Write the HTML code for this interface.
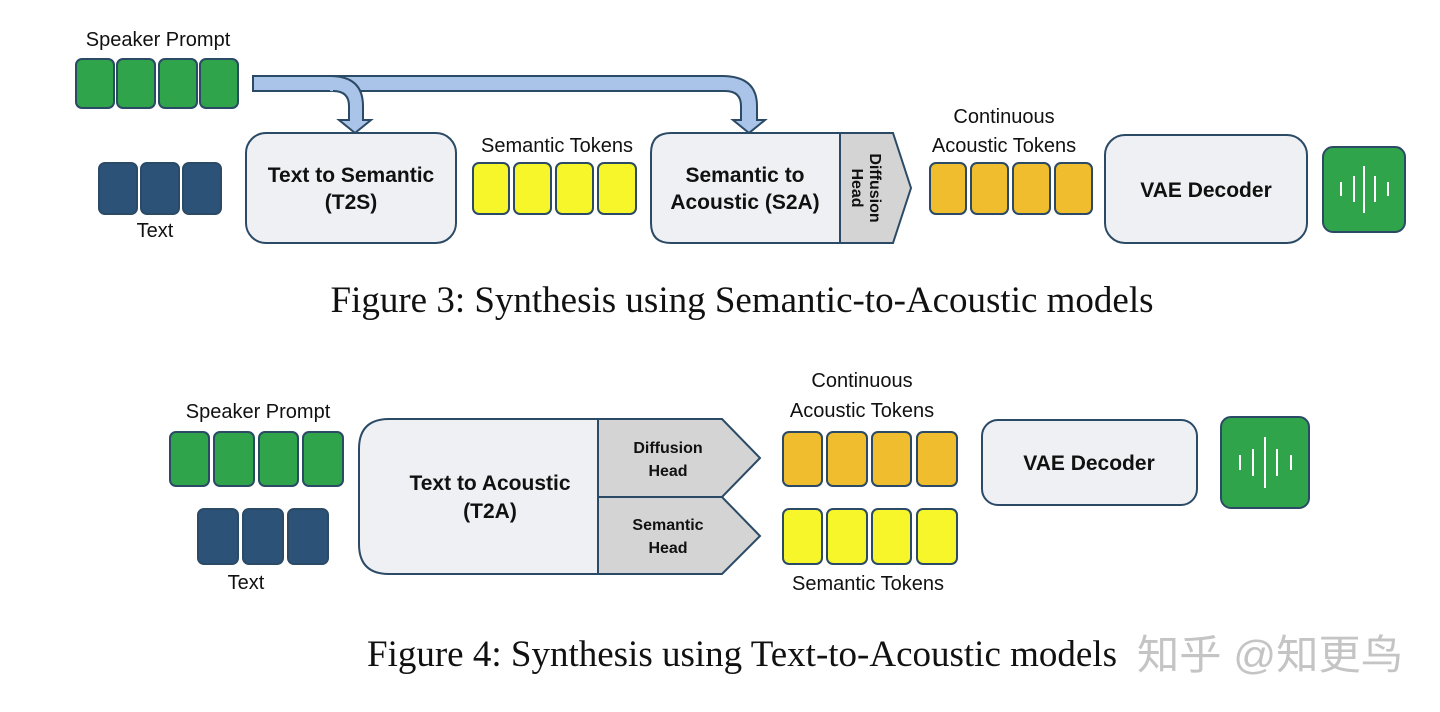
<!DOCTYPE html>
<html><head><meta charset="utf-8"><style>
html,body{margin:0;padding:0;background:#fff;}
svg{display:block}
.l{font-family:"Liberation Sans",sans-serif;font-size:20px;fill:#111;}
.b{font-family:"Liberation Sans",sans-serif;font-size:21px;font-weight:bold;fill:#111;}
.s{font-family:"Liberation Sans",sans-serif;font-size:16px;font-weight:bold;fill:#111;}
.c{font-family:"Liberation Serif",serif;font-size:37px;fill:#111;}
</style></head><body>
<svg width="1440" height="712" viewBox="0 0 1440 712" xmlns="http://www.w3.org/2000/svg">
<g stroke="#2b4a66" stroke-width="2">
<!-- fig3 -->
<text class="l" x="158" y="46" text-anchor="middle" stroke="none">Speaker Prompt</text>
<g fill="#2fa44a"><rect x="76" y="59" width="38" height="49" rx="6"/><rect x="117" y="59" width="38" height="49" rx="6"/><rect x="159" y="59" width="38" height="49" rx="6"/><rect x="200" y="59" width="38" height="49" rx="6"/></g>
<path d="M253,76 H722 Q757,76 757,106 V120 H765 L749,133 L733,120 H741 V106 Q741,91 725,91 H253 Z" fill="#a9c4e8"/>
<path d="M330,76 Q363,76 363,106 V120 H371 L355,133 L339,120 H349 V106 Q349,91 330,91 Z" fill="#a9c4e8" stroke="none"/>
<path d="M330,76 Q363,76 363,106 V120 H371 L355,133 L339,120 H349 V106 Q349,91 333,91" fill="none"/>
<g fill="#2c5278"><rect x="99" y="163" width="38" height="51" rx="6"/><rect x="141" y="163" width="38" height="51" rx="6"/><rect x="183" y="163" width="38" height="51" rx="6"/></g>
<text class="l" x="155" y="237" text-anchor="middle" stroke="none">Text</text>
<rect x="246" y="133" width="210" height="110" rx="20" fill="#eef0f3"/>
<text class="b" x="351" y="182" text-anchor="middle" stroke="none">Text to Semantic</text>
<text class="b" x="351" y="209" text-anchor="middle" stroke="none">(T2S)</text>
<text class="l" x="557" y="152" text-anchor="middle" stroke="none">Semantic Tokens</text>
<g fill="#f6f62a"><rect x="473" y="163" width="36" height="51" rx="6"/><rect x="514" y="163" width="37" height="51" rx="6"/><rect x="556" y="163" width="37" height="51" rx="6"/><rect x="598" y="163" width="38" height="51" rx="6"/></g>
<path d="M840,133 H671 Q651,133 651,153 V223 Q651,243 671,243 H840 Z" fill="#eef0f3"/>
<path d="M840,133 H893 L911,188 L893,243 H840 Z" fill="#d4d4d4"/>
<text class="b" x="745" y="182" text-anchor="middle" stroke="none">Semantic to</text>
<text class="b" x="745" y="209" text-anchor="middle" stroke="none">Acoustic (S2A)</text>
<g transform="translate(866,188) rotate(90)"><text class="s" x="0" y="-4" text-anchor="middle" stroke="none">Diffusion</text><text class="s" x="0" y="14" text-anchor="middle" stroke="none">Head</text></g>
<text class="l" x="1004" y="123" text-anchor="middle" stroke="none">Continuous</text>
<text class="l" x="1004" y="152" text-anchor="middle" stroke="none">Acoustic Tokens</text>
<g fill="#f0bd2e"><rect x="930" y="163" width="36" height="51" rx="6"/><rect x="971" y="163" width="37" height="51" rx="6"/><rect x="1013" y="163" width="37" height="51" rx="6"/><rect x="1055" y="163" width="37" height="51" rx="6"/></g>
<rect x="1105" y="135" width="202" height="108" rx="20" fill="#eef0f3"/>
<text class="b" x="1206" y="197" text-anchor="middle" stroke="none">VAE Decoder</text>
<rect x="1323" y="147" width="82" height="85" rx="10" fill="#2fa44a"/>
<g stroke="#fff" stroke-width="2"><line x1="1341" y1="182" x2="1341" y2="196"/><line x1="1354" y1="176" x2="1354" y2="202"/><line x1="1364" y1="166" x2="1364" y2="213"/><line x1="1375" y1="176" x2="1375" y2="202"/><line x1="1388" y1="182" x2="1388" y2="196"/></g>
<text class="c" x="742" y="312" text-anchor="middle" stroke="none" textLength="823" lengthAdjust="spacingAndGlyphs">Figure 3: Synthesis using Semantic-to-Acoustic models</text>
<!-- fig4 -->
<text class="l" x="258" y="418" text-anchor="middle" stroke="none">Speaker Prompt</text>
<g fill="#2fa44a"><rect x="170" y="432" width="39" height="54" rx="6"/><rect x="214" y="432" width="40" height="54" rx="6"/><rect x="259" y="432" width="39" height="54" rx="6"/><rect x="303" y="432" width="40" height="54" rx="6"/></g>
<g fill="#2c5278"><rect x="198" y="509" width="40" height="55" rx="6"/><rect x="243" y="509" width="40" height="55" rx="6"/><rect x="288" y="509" width="40" height="55" rx="6"/></g>
<text class="l" x="246" y="589" text-anchor="middle" stroke="none">Text</text>
<path d="M598,419 H389 Q359,419 359,449 V544 Q359,574 389,574 H598 Z" fill="#eef0f3"/>
<path d="M598,419 H722 L760,458 L722,497 H598 Z" fill="#d4d4d4"/>
<path d="M598,497 H722 L760,536 L722,574 H598 Z" fill="#d4d4d4"/>
<text class="b" x="490" y="490" text-anchor="middle" stroke="none">Text to Acoustic</text>
<text class="b" x="490" y="518" text-anchor="middle" stroke="none">(T2A)</text>
<text class="s" x="668" y="453" text-anchor="middle" stroke="none">Diffusion</text>
<text class="s" x="668" y="476" text-anchor="middle" stroke="none">Head</text>
<text class="s" x="668" y="530" text-anchor="middle" stroke="none">Semantic</text>
<text class="s" x="668" y="553" text-anchor="middle" stroke="none">Head</text>
<text class="l" x="862" y="387" text-anchor="middle" stroke="none">Continuous</text>
<text class="l" x="862" y="417" text-anchor="middle" stroke="none">Acoustic Tokens</text>
<g fill="#f0bd2e"><rect x="783" y="432" width="39" height="54" rx="6"/><rect x="827" y="432" width="40" height="54" rx="6"/><rect x="872" y="432" width="39" height="54" rx="6"/><rect x="917" y="432" width="40" height="54" rx="6"/></g>
<g fill="#f6f62a"><rect x="783" y="509" width="39" height="55" rx="6"/><rect x="827" y="509" width="40" height="55" rx="6"/><rect x="872" y="509" width="39" height="55" rx="6"/><rect x="917" y="509" width="40" height="55" rx="6"/></g>
<text class="l" x="868" y="590" text-anchor="middle" stroke="none">Semantic Tokens</text>
<rect x="982" y="420" width="215" height="85" rx="16" fill="#eef0f3"/>
<text class="b" x="1089" y="470" text-anchor="middle" stroke="none">VAE Decoder</text>
<rect x="1221" y="417" width="88" height="91" rx="10" fill="#2fa44a"/>
<g stroke="#fff" stroke-width="2"><line x1="1240" y1="455" x2="1240" y2="470"/><line x1="1253" y1="449" x2="1253" y2="476"/><line x1="1265" y1="437" x2="1265" y2="488"/><line x1="1277" y1="449" x2="1277" y2="476"/><line x1="1291" y1="455" x2="1291" y2="470"/></g>
<text class="c" x="367" y="666" stroke="none" textLength="750" lengthAdjust="spacingAndGlyphs">Figure 4: Synthesis using Text-to-Acoustic models</text>
<text x="1137" y="669" stroke="none" fill="#c4c4c4" textLength="266" lengthAdjust="spacingAndGlyphs" style="font-family:'Liberation Sans','Noto Sans CJK SC',sans-serif;font-size:41px">知乎 @知更鸟</text>
</g>
</svg>
</body></html>
